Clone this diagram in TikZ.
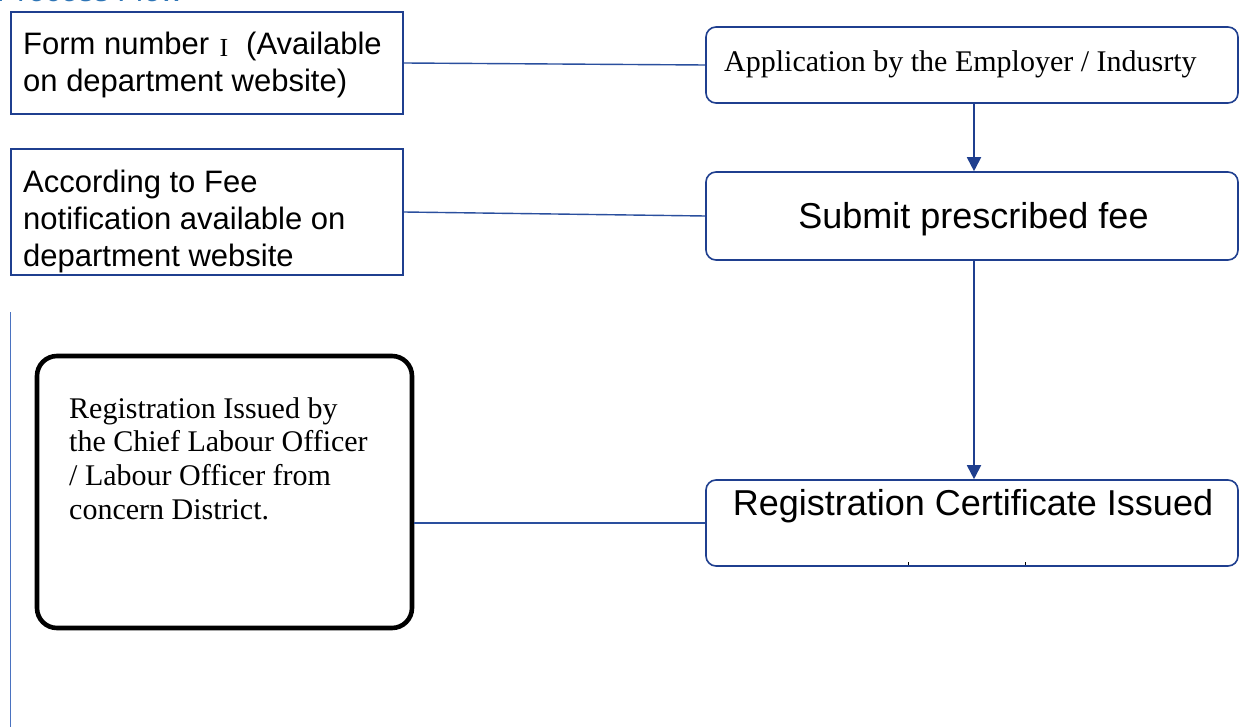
\documentclass[tikz,border=0pt]{standalone}
\usepackage{fontspec}
\setmainfont{Liberation Sans}
\newfontfamily\seriffont{Liberation Serif}
\usetikzlibrary{arrows.meta}
\definecolor{boxblue}{HTML}{1F3F8F}
\definecolor{linkblue}{HTML}{2A4F9E}
\definecolor{railblue}{HTML}{4A72C0}
\definecolor{titleblue}{HTML}{2E75B6}
\newcommand{\fs}[2]{\fontsize{#1}{#2}\selectfont}
\tikzset{
  sidebox/.style={draw=boxblue, line width=1.6pt, rectangle, inner sep=0pt},
  stepbox/.style={draw=boxblue, line width=1.6pt, rectangle, rounded corners=10pt, inner sep=0pt},
  officebox/.style={draw=black, line width=4.6pt, rectangle, rounded corners=20pt, inner sep=0pt},
  link/.style={draw=linkblue, line width=1.4pt},
  flow/.style={draw=boxblue, line width=1.8pt, -{Triangle[length=14pt,width=14pt]}},
  txt/.style={inner sep=0pt, anchor=base west},
}
\begin{document}
\begin{tikzpicture}[x=1pt, y=-1pt]
\clip (0,0) rectangle (1239,727);
\fill[white] (0,0) rectangle (1239,727);

% heading, mostly above the top edge
\node[txt, text=titleblue] (title) at (-2,2) {\fs{31}{37}\itshape Process Flow};

% left rail
\draw[railblue, line width=1pt] (10,312) -- (10,727);

% boxes
\node[sidebox, minimum width=392pt, minimum height=102pt] (form) at (207,63) {};
\node[sidebox, minimum width=392pt, minimum height=126pt] (fee) at (207,212) {};
\node[stepbox, minimum width=532pt, minimum height=76pt] (apply) at (972,65) {};
\node[stepbox, minimum width=532pt, minimum height=88pt] (submit) at (972,216) {};
\node[stepbox, minimum width=532pt, minimum height=86pt] (cert) at (972,523) {};
\node[officebox, minimum width=375pt, minimum height=272pt] (office) at (224.5,492) {};

% texts
\node[txt, font=\fs{31}{37}] (formA) at (23,55) {Form number};
\node[txt, font=\seriffont\fs{26}{30}, line width=0pt] (formI) at (219.5,56.5) {I};
\node[txt, font=\fs{31}{37}] (formA2) at (246,55) {(Available};
\node[txt, font=\fs{31}{37}] (formB) at (23,92) {on department website)};
\node[txt, font=\fs{31}{37}] (feeA) at (23,193) {According to Fee};
\node[txt, font=\fs{31}{37}] (feeB) at (23,230) {notification available on};
\node[txt, font=\fs{31}{37}] (feeC) at (23,267) {department website};
\node[txt, font=\seriffont\fs{30}{34}] (applyT) at (724,72) {Application by the Employer / Indusrty};
\node[inner sep=0pt, anchor=base, font=\fs{36}{42}] (submitT) at (973.5,229) {Submit prescribed fee};
\node[inner sep=0pt, anchor=base, font=\fs{36}{42}] (certT) at (973,515) {Registration Certificate Issued};
\node[txt, font=\seriffont\fs{30}{34}] (officeA) at (69,418) {Registration Issued by};
\node[txt, font=\seriffont\fs{30}{34}] (officeB) at (69,451) {the Chief Labour Officer};
\node[txt, font=\seriffont\fs{30}{34}] (officeC) at (69,485) {/ Labour Officer from};
\node[txt, font=\seriffont\fs{30}{34}] (officeD) at (69,519) {concern District.};

% connectors
\draw[link] (form.east) -- (apply.west);
\draw[link] (fee.east) -- (submit.west);
\draw[link] (cert.west) -- (cert.west -| office.east);
\draw[flow] ([xshift=2pt]apply.south) -- ([xshift=2pt]submit.north);
\draw[flow] ([xshift=2pt]submit.south) -- ([xshift=2pt]cert.north);

% small marks on the certificate box
\draw[black, line width=1pt] (908,562) -- (908,565);
\draw[black, line width=1pt] (1025,562) -- (1025,565);
\end{tikzpicture}
\end{document}
